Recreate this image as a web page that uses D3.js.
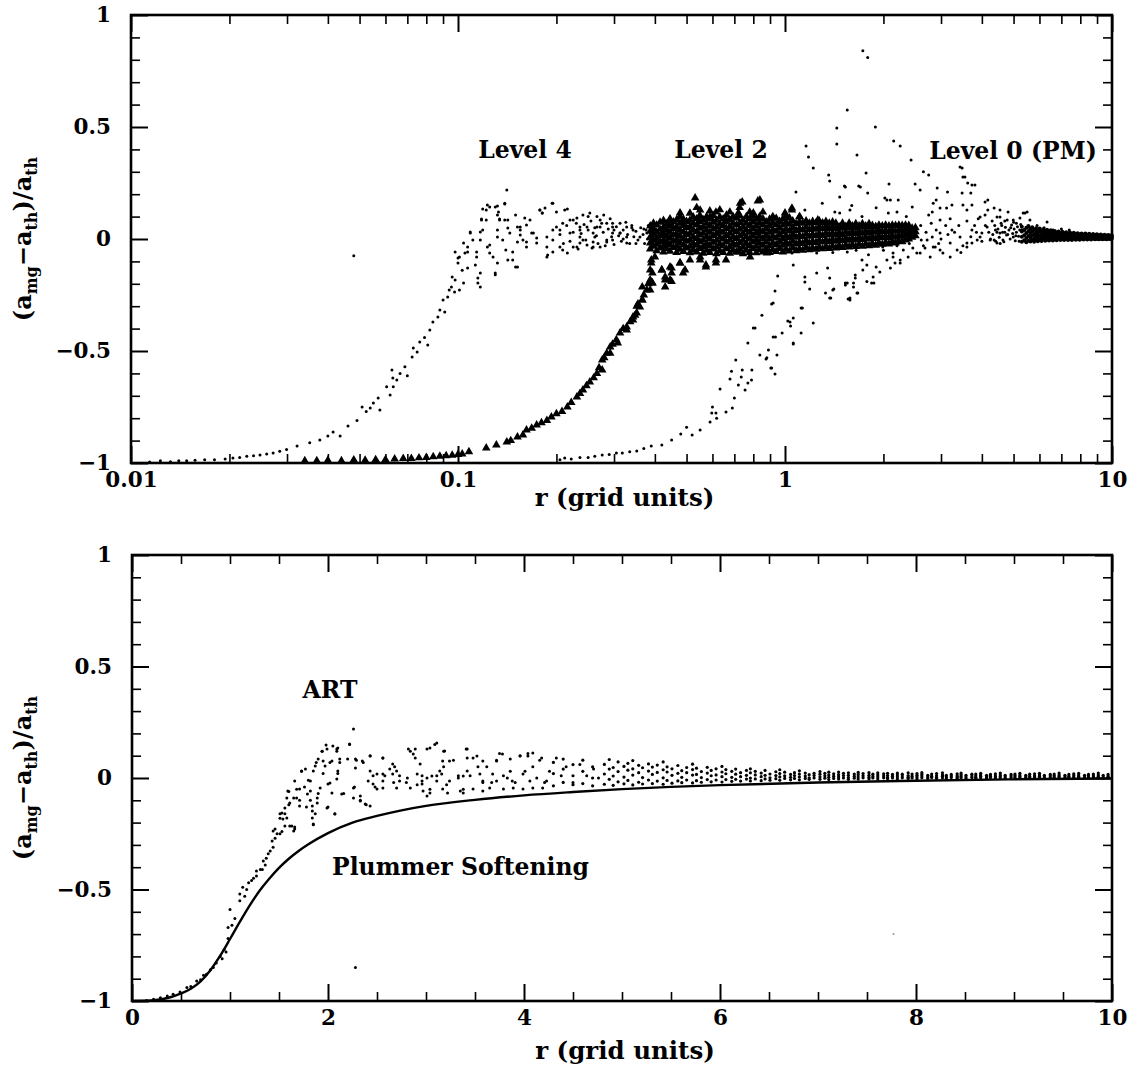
<!DOCTYPE html>
<html>
<head>
<meta charset="utf-8">
<script src="https://cdn.jsdelivr.net/npm/d3@7"></script>
<style>
  body { margin: 0; background: #fff; }
  svg { display: block; }
</style>
</head>
<body>
<svg id="chart" width="1133" height="1072"></svg>
<script>
// ---------------- data: top panel (log r) ----------------
// Level 4 refinement, small dots: [r, (a_mg - a_th)/a_th]
const level4 = [
  [0.0114,-0.995],[0.0123,-0.99],[0.0132,-0.994],[0.0140,-0.99],[0.0148,-0.99],[0.0157,-0.988],[0.0168,-0.986],
  [0.0180,-0.985],[0.0194,-0.982],[0.0205,-0.978],[0.0215,-0.975],[0.0226,-0.97],[0.0237,-0.968],[0.0248,-0.964],
  [0.0260,-0.96],[0.0272,-0.955],[0.0285,-0.948],[0.0299,-0.94],[0.0322,-0.924],[0.0352,-0.91],[0.0378,-0.897],
  [0.0400,-0.88],[0.0415,-0.862],[0.0436,-0.88],[0.0461,-0.835],[0.0491,-0.81],[0.0509,-0.75],[0.0524,-0.77],
  [0.0539,-0.754],[0.0551,-0.732],[0.0570,-0.71],[0.0577,-0.763],[0.0605,-0.66],[0.0620,-0.696],[0.0628,-0.585],
  [0.0632,-0.62],[0.0634,-0.66],[0.0650,-0.63],[0.0665,-0.60],[0.0688,-0.57],[0.0700,-0.61],[0.0724,-0.527],
  [0.0730,-0.487],[0.0750,-0.505],[0.0764,-0.46],[0.0790,-0.44],[0.0808,-0.473],[0.0820,-0.406],[0.0838,-0.37],
  [0.0868,-0.348],[0.0880,-0.317],[0.0900,-0.272],[0.0911,-0.326],[0.0930,-0.259],[0.0955,-0.214],[0.0976,-0.237],
  [0.1010,-0.228],[0.1040,-0.196],[0.1000,-0.107],[0.1010,-0.08],[0.1030,-0.14],[0.1050,-0.063],[0.1070,-0.036],
  [0.1090,0.027],[0.1110,-0.004],[0.1130,-0.116],[0.1140,-0.08],[0.1150,-0.196],[0.1170,-0.152],[0.1180,0.085],
  [0.1190,0.04],[0.1220,0.13],[0.1230,-0.036],[0.1250,0.143],[0.1280,-0.08],[0.1300,0.143],[0.1300,-0.152],
  [0.1320,0.107],[0.1340,0.085],[0.1370,-0.004],[0.1390,0.16],[0.1410,0.219],[0.1420,-0.094],[0.1440,0.027],
  [0.1470,-0.058],[0.1500,-0.125],[0.1520,0.054],[0.1550,0.04],[0.1580,-0.004],[0.1620,-0.036],[0.1660,0.085],
  [0.1680,0.027],[0.1740,-0.018],[0.1780,0.13],[0.1810,0.116],[0.1870,-0.036],[0.1880,-0.071],[0.1940,0.16],
  [0.1950,-0.004],[0.2000,0.054],[0.2050,-0.036],[0.2120,0.13],[0.2160,-0.063],[0.2200,0.027],[0.2250,0.085],
  [0.2310,-0.036],[0.2360,0.054],[0.2410,-0.004],[0.2500,0.10],[0.2590,-0.036],[0.2660,0.054],[0.2720,0.085],
  [0.2850,-0.004],[0.2970,0.054],[0.3130,0.027],[0.3280,-0.018],[0.3430,0.04],[0.3600,0.009],[0.3780,0.027],
  [0.3930,-0.036],
  [0.123,0.152],[0.132,0.147],[0.139,0.156],[0.119,0.134],[0.133,0.12],[0.118,0.089],[0.122,0.085],[0.134,0.089],
  [0.139,0.085],[0.142,0.085],[0.150,0.107],[0.160,0.094],[0.178,0.129],[0.1845,0.138],[0.195,0.16],[0.200,0.12],
  [0.216,0.134],[0.181,0.116],[0.109,0.031],[0.117,0.031],[0.132,0.04],[0.117,-0.004],[0.125,-0.027],[0.132,0.009],
  [0.142,0.049],[0.155,0.054],[0.162,0.063],[0.170,0.027],[0.155,0.018],[0.152,-0.013],[0.162,-0.013],[0.174,0.004],
  [0.187,0.009],[0.195,0.04],[0.205,0.04],[0.209,0.07],[0.220,0.085],[0.231,0.094],[0.241,0.107],[0.253,0.116],
  [0.266,0.10],[0.279,0.107],[0.104,-0.018],[0.107,-0.058],[0.098,-0.058],[0.100,-0.085],[0.114,-0.058],
  [0.125,-0.063],[0.132,-0.107],[0.140,-0.049],[0.147,-0.094],[0.152,-0.125],[0.130,-0.16],[0.115,-0.174],
  [0.117,-0.214],[0.107,-0.13],[0.096,-0.17],[0.098,-0.183],[0.094,-0.228],[0.187,-0.08],[0.195,-0.058],
  [0.209,-0.049],[0.225,-0.036],[0.236,-0.018],[0.248,-0.027],[0.259,-0.013],[0.272,-0.036],[0.285,-0.013],
  [0.297,-0.004],[0.313,0.027],[0.236,0.04],[0.248,0.054],[0.259,0.027],[0.272,0.054],[0.285,0.07],[0.297,0.07],
  [0.313,0.07],[0.328,0.054],[0.236,0.009],[0.262,0.009],[0.297,0.027],[0.328,0.009],
  [0.30,0.04],[0.32,0.0],[0.34,0.05],[0.35,-0.02],[0.37,0.045],[0.38,0.0],[0.40,0.02],[0.42,0.03],[0.44,0.0],[0.46,0.02],
  [0.205,0.02],[0.210,-0.02],[0.215,0.06],[0.220,-0.01],[0.225,0.03],[0.230,0.07],[0.233,-0.045],[0.238,0.025],
  [0.243,0.065],[0.246,-0.005],[0.250,0.04],[0.255,0.08],[0.257,-0.04],[0.262,0.05],[0.265,0.015],[0.268,-0.02],
  [0.275,0.07],[0.278,0.03],[0.282,-0.03],[0.288,0.045],[0.292,0.09],[0.295,0.01],[0.300,-0.025],[0.305,0.055],
  [0.310,0.015],[0.316,-0.01],[0.320,0.04],[0.326,0.075],[0.330,0.02],[0.335,-0.02],[0.340,0.06],[0.345,0.01],
  [0.350,0.035],[0.355,-0.005],[0.362,0.05],[0.368,0.02],[0.372,-0.02],[0.376,0.04],[0.382,0.06],[0.385,0.01],
  [0.048,-0.075]
];

// Level 2 refinement, triangles
const level2 = [
  [0.034,-0.99],[0.037,-0.99],[0.040,-0.988],[0.044,-0.99],[0.048,-0.986],[0.052,-0.988],[0.056,-0.985],
  [0.060,-0.985],[0.064,-0.982],[0.068,-0.98],[0.072,-0.98],[0.076,-0.977],[0.080,-0.975],[0.084,-0.972],
  [0.088,-0.97],[0.092,-0.968],[0.096,-0.965],[0.100,-0.962],[0.103,-0.96],[0.108,-0.95],
  [0.122,-0.933],[0.131,-0.92],[0.141,-0.906],[0.152,-0.884],[0.162,-0.853],[0.174,-0.83],[0.187,-0.81],
  [0.200,-0.78],[0.216,-0.75],[0.231,-0.705],[0.241,-0.674],[0.253,-0.638],[0.266,-0.60],[0.276,-0.54],
  [0.285,-0.51],[0.292,-0.482],[0.313,-0.42],[0.328,-0.393],[0.343,-0.362],[0.352,-0.33],[0.360,-0.304],
  [0.366,-0.272],[0.378,-0.228],[0.387,-0.183],[0.393,-0.152],[0.390,-0.107],[0.400,-0.08],[0.420,-0.138],
  [0.430,-0.183],[0.445,-0.125],[0.450,-0.152],[0.4775,-0.107],[0.488,-0.152],[0.524,-0.049],[0.550,-0.094],
  [0.573,-0.125],[0.615,-0.107],
  [0.145,-0.90],[0.158,-0.875],[0.168,-0.845],[0.180,-0.82],[0.193,-0.795],[0.208,-0.77],[0.222,-0.73],
  [0.236,-0.69],[0.247,-0.655],[0.260,-0.62],[0.270,-0.575],[0.280,-0.53],[0.297,-0.47],[0.305,-0.45],
  [0.320,-0.40],[0.336,-0.37],[0.348,-0.34],[0.355,-0.29],[0.370,-0.25],[0.382,-0.20],
  [0.276,-0.585],[0.292,-0.51],[0.308,-0.464],[0.328,-0.406],[0.343,-0.348],[0.352,-0.30],[0.366,-0.272],
  [0.387,-0.228],[0.393,-0.196],[0.430,-0.214],[0.450,-0.19],
  [0.390,-0.094],[0.387,-0.138],[0.420,-0.138],[0.450,-0.13],[0.4775,-0.107],[0.4945,-0.138],[0.430,-0.17],
  [0.512,-0.094],[0.550,-0.08],[0.573,-0.116],[0.615,-0.094],[0.660,-0.094],[0.720,-0.058],[0.782,-0.08],
  [0.880,-0.063],[0.366,-0.214],[0.393,-0.196],[0.445,-0.183],
  [0.531,0.183],[0.826,0.17],[0.4775,0.116],[0.550,0.129],[0.615,0.12],[0.729,0.16],[0.720,0.116],
  [0.856,0.12],[1.000,0.116],[1.050,0.129],[0.445,0.071],[0.488,0.076],[0.590,0.098],[0.660,0.085],
  [0.800,0.116],[0.915,0.094],[1.110,0.098],[1.260,0.085],[0.838,0.174],[1.050,0.138],[0.740,0.165]
];

// Level 2: the dense band near zero, one column per radius
const level2Band = [
  [0.387,[-0.045,-0.018,0.008,0.034,0.058]],[0.396,[-0.032,-0.006,0.02,0.046,0.07]],
  [0.405,[-0.052,-0.024,0.002,0.03,0.062]],[0.415,[-0.04,-0.012,0.016,0.043,0.075]],
  [0.425,[-0.058,-0.03,-0.004,0.025,0.052,0.083]],[0.435,[-0.044,-0.016,0.012,0.04,0.068]],
  [0.445,[-0.055,-0.026,0.003,0.03,0.058,0.09]],[0.456,[-0.038,-0.01,0.018,0.047,0.076]],
  [0.466,[-0.06,-0.032,-0.004,0.024,0.053,0.085]],[0.477,[-0.046,-0.017,0.012,0.04,0.07,0.1]],
  [0.489,[-0.056,-0.027,0.002,0.031,0.06,0.088]],[0.500,[-0.04,-0.01,0.02,0.05,0.078]],
  [0.512,[-0.062,-0.033,-0.004,0.026,0.055,0.084,0.115]],[0.524,[-0.048,-0.019,0.01,0.04,0.07,0.098]],
  [0.537,[-0.058,-0.028,0.002,0.032,0.062,0.09,0.14]],[0.549,[-0.042,-0.012,0.018,0.048,0.078,0.105]],
  [0.562,[-0.064,-0.034,-0.004,0.026,0.056,0.086]],[0.576,[-0.05,-0.02,0.01,0.04,0.07,0.1]],
  [0.589,[-0.06,-0.03,0.0,0.03,0.06,0.09,0.125]],[0.603,[-0.045,-0.015,0.015,0.045,0.075,0.105]],
  [0.617,[-0.066,-0.036,-0.006,0.024,0.054,0.084]],[0.632,[-0.052,-0.022,0.008,0.038,0.068,0.098,0.13]],
  [0.647,[-0.06,-0.03,0.0,0.03,0.06,0.09]],[0.662,[-0.044,-0.014,0.016,0.046,0.076,0.106]],
  [0.678,[-0.064,-0.034,-0.004,0.026,0.056,0.086,0.12]],[0.694,[-0.05,-0.02,0.01,0.04,0.07,0.1]],
  [0.710,[-0.058,-0.028,0.002,0.032,0.062,0.092]],[0.727,[-0.046,-0.016,0.014,0.044,0.074,0.104,0.14]],
  [0.744,[-0.066,-0.036,-0.006,0.024,0.054,0.084]],[0.762,[-0.05,-0.02,0.01,0.04,0.07,0.1]],
  [0.780,[-0.06,-0.03,0.0,0.03,0.06,0.09,0.12]],[0.798,[-0.044,-0.014,0.016,0.046,0.076,0.104]],
  [0.817,[-0.062,-0.032,-0.002,0.028,0.058,0.088]],[0.836,[-0.048,-0.018,0.012,0.042,0.072,0.1]],
  [0.856,[-0.058,-0.028,0.002,0.032,0.062,0.09]],[0.876,[-0.044,-0.014,0.016,0.046,0.076]],
  [0.897,[-0.06,-0.03,0.0,0.03,0.06,0.088]],[0.918,[-0.048,-0.018,0.012,0.042,0.072,0.1]],
  [0.940,[-0.056,-0.026,0.004,0.034,0.064,0.092]],[0.962,[-0.042,-0.012,0.018,0.048,0.078]],
  [0.985,[-0.058,-0.028,0.002,0.032,0.062,0.09]],[1.008,[-0.046,-0.016,0.014,0.044,0.074,0.102]],
  [1.032,[-0.054,-0.024,0.006,0.036,0.066,0.094]],[1.056,[-0.04,-0.01,0.02,0.05,0.08]],
  [1.081,[-0.052,-0.022,0.008,0.038,0.068]],[1.107,[-0.044,-0.014,0.016,0.046,0.076,0.1]],
  [1.133,[-0.05,-0.02,0.01,0.04,0.07]],[1.160,[-0.038,-0.008,0.022,0.052,0.08]],
  [1.187,[-0.048,-0.018,0.012,0.042,0.07]],[1.215,[-0.04,-0.01,0.02,0.05,0.078]],
  [1.244,[-0.046,-0.016,0.014,0.044,0.072]],[1.273,[-0.036,-0.006,0.024,0.054,0.08]],
  [1.303,[-0.044,-0.014,0.016,0.046,0.072]],[1.334,[-0.034,-0.004,0.026,0.054,0.078]],
  [1.366,[-0.042,-0.012,0.018,0.046,0.07]],[1.398,[-0.032,-0.002,0.026,0.054,0.076]],
  [1.431,[-0.04,-0.01,0.018,0.046,0.07]],[1.465,[-0.03,0.0,0.028,0.054]],
  [1.499,[-0.038,-0.008,0.02,0.048,0.07]],[1.535,[-0.028,0.002,0.03,0.056]],
  [1.571,[-0.036,-0.006,0.022,0.05,0.07]],[1.608,[-0.026,0.004,0.032,0.058]],
  [1.646,[-0.034,-0.004,0.024,0.05,0.068]],[1.685,[-0.024,0.006,0.032,0.058]],
  [1.725,[-0.032,-0.002,0.026,0.052,0.068]],[1.766,[-0.022,0.008,0.034,0.058]],
  [1.807,[-0.03,0.0,0.028,0.054,0.068]],[1.850,[-0.02,0.01,0.036,0.06]],
  [1.894,[-0.028,0.002,0.03,0.056]],[1.938,[-0.018,0.012,0.038,0.062]],
  [1.984,[-0.024,0.006,0.032,0.058]],[2.031,[-0.016,0.012,0.038,0.062]],
  [2.079,[-0.022,0.006,0.032,0.058]],[2.128,[-0.014,0.014,0.04,0.062]],
  [2.178,[-0.018,0.008,0.034,0.06]],[2.230,[-0.01,0.016,0.04,0.062]],
  [2.282,[-0.012,0.012,0.036,0.06]],[2.336,[-0.004,0.02,0.044,0.062]],
  [2.391,[0.0,0.022,0.044,0.06]],[2.448,[0.008,0.028,0.048]],[2.505,[0.014,0.032,0.05]]
];

// Level 0 (PM), small dots
const level0 = [
  [0.205,-0.985],[0.212,-0.978],[0.222,-0.982],[0.236,-0.975],[0.250,-0.975],[0.262,-0.97],[0.276,-0.964],
  [0.290,-0.962],[0.305,-0.955],[0.318,-0.955],[0.335,-0.95],[0.352,-0.946],[0.370,-0.935],[0.390,-0.924],
  [0.420,-0.92],[0.450,-0.897],[0.480,-0.87],[0.500,-0.84],[0.520,-0.875],[0.550,-0.853],[0.590,-0.817],
  [0.597,-0.777],[0.615,-0.777],[0.600,-0.75],[0.618,-0.80],[0.633,-0.67],[0.660,-0.772],[0.679,-0.625],
  [0.686,-0.59],[0.690,-0.754],[0.707,-0.54],[0.720,-0.652],[0.700,-0.71],[0.740,-0.585],[0.735,-0.616],
  [0.755,-0.674],[0.770,-0.643],[0.790,-0.63],[0.792,-0.585],[0.770,-0.464],[0.800,-0.397],[0.838,-0.518],
  [0.850,-0.34],[0.875,-0.536],[0.890,-0.496],[0.905,-0.576],[0.932,-0.603],[0.910,-0.29],[0.932,-0.232],
  [0.935,-0.4375],[0.945,-0.518],[0.980,-0.42],[1.020,-0.366],[1.040,-0.388],[1.060,-0.353],[1.060,-0.469],
  [1.120,-0.42],[1.130,-0.308],[1.220,-0.375],[1.150,-0.192],[1.190,-0.223],[1.330,-0.241],[1.380,-0.263],
  [1.410,-0.223],[1.530,-0.196],[1.560,-0.268],[1.620,-0.214],[1.670,-0.241],[1.780,-0.19],[1.870,-0.196],
  [0.950,-0.165],[0.920,-0.286],[0.810,-0.397],[1.050,-0.0625],[1.060,-0.116],[1.250,-0.0625],[1.150,-0.17],
  [1.250,-0.152],[1.350,-0.13],[1.370,-0.174],[1.400,-0.228],[1.370,-0.263],[1.120,-0.308],[1.036,-0.37],
  [1.060,-0.464],[0.920,-0.4375],[0.880,-0.53],[0.910,-0.576],
  [1.530,-0.205],[1.580,-0.272],[1.640,-0.174],[1.550,-0.058],[1.470,-0.04],[1.660,-0.241],[1.720,-0.094],
  [1.780,-0.116],[1.840,-0.196],[1.860,-0.17],[1.950,-0.147],[1.990,-0.036],[2.050,-0.094],[2.100,-0.13],
  [2.140,-0.0625],[2.170,-0.107],[2.250,-0.094],[2.300,-0.049],[2.380,-0.08],[2.460,-0.04],[2.530,-0.0625],
  [2.610,-0.004],[2.680,-0.04],[2.820,0.009],[2.880,-0.036],[2.980,0.027],[3.040,-0.0625],[3.200,-0.08],
  [3.240,0.04],[3.430,0.009],[3.600,-0.018],[3.730,0.04],[3.870,-0.004],[4.000,0.027],[4.150,0.054],
  [4.360,-0.004],[4.545,0.027],
  [2.720,-0.004],[2.840,-0.036],[2.590,-0.0625],[2.780,-0.08],[2.980,-0.049],[3.200,-0.018],[3.360,-0.049],
  [3.600,-0.036],[3.730,-0.018],[3.950,0.009],[4.240,-0.004],[4.450,-0.018],[4.640,-0.004],[4.990,0.009],
  [2.140,-0.08],[2.250,-0.107],[1.900,-0.125],[1.730,-0.138],[1.620,-0.196],[1.640,-0.161],[1.550,-0.196],
  [1.580,-0.263],
  [1.730,0.84],[1.790,0.81],[1.550,0.576],[1.440,0.496],[1.890,0.50],[1.440,0.424],[1.160,0.415],[2.150,0.4375],
  [2.250,0.415],[1.180,0.366],[1.660,0.375],[2.430,0.353],[1.220,0.317],[1.770,0.295],[2.650,0.30],[2.750,0.286],
  [3.430,0.321],[1.360,0.286],[1.370,0.259],[1.080,0.21],[1.520,0.237],[1.470,0.1875],[1.680,0.237],[1.790,0.205],
  [2.080,0.246],[2.050,0.174],[2.500,0.246],[2.590,0.219],[2.920,0.228],[3.140,0.21],[3.500,0.277],[3.620,0.25],
  [3.730,0.241],[3.700,0.205],[2.900,0.174],[2.450,0.143],[2.820,0.12],[2.980,0.138],[4.170,0.174],[3.240,0.152],
  [1.580,0.129],[2.070,0.116],[1.470,0.116],[4.360,0.138],[5.420,0.116],[4.545,0.098],
  [1.530,0.232],[1.700,0.232],[2.020,0.183],[2.100,0.174],[2.220,0.174],[2.750,0.107],[2.980,0.085],[3.480,0.317],
  [3.550,0.277],[3.810,0.241],[3.480,0.205],[3.500,0.152],[3.600,0.129],[3.730,0.152],[4.090,0.165],[4.170,0.129],
  [4.545,0.129],[4.810,0.12],[5.350,0.116],[5.500,0.12],[6.330,0.076],[4.090,0.107],[3.950,0.098],[4.450,0.098],
  [4.780,0.085],[4.990,0.085],[5.230,0.094],[5.610,0.085],[2.840,0.16],[3.120,0.138],
  [2.60,0.06],[2.70,0.03],[2.80,0.07],[2.90,0.04],[3.00,0.0],[3.10,0.06],[3.20,0.09],[3.30,0.03],[3.40,0.06],
  [3.50,-0.03],[3.60,0.08],[3.70,0.01],[3.80,0.06],[3.90,0.09],[4.00,-0.01],[4.10,0.06],[4.20,0.03],[4.30,0.08],
  [4.40,0.04],[2.65,-0.03],[2.95,-0.02],[3.15,0.02],[3.45,-0.06],[3.85,0.03],[4.25,0.0],[4.60,0.06],[4.70,0.03],
  [4.90,0.05],[5.10,0.07],[5.30,0.04],[5.60,0.05],[5.90,0.06],[6.20,0.05],[6.60,0.04],[7.00,0.045],[7.40,0.04],
  [1.20,-0.04],[1.40,-0.06],[1.65,-0.05],[1.80,-0.07],[2.00,-0.05],[2.20,-0.03],[2.40,-0.02],
  [1.15,0.13],[1.30,0.16],[1.42,0.12],[1.60,0.15],[1.72,0.10],[1.90,0.14],[2.20,0.12],[2.35,0.10],
  [4.32,0.02],[4.38,0.06],[4.41,-0.01],[4.48,0.045],[4.52,0.008],[4.58,0.07],[4.63,0.03],[4.67,-0.012],
  [4.72,0.052],[4.76,0.018],[4.84,0.04],[4.88,0.0],[4.93,0.062],[4.97,0.025],[5.02,0.045],[5.06,-0.008],
  [5.10,0.03],[5.14,0.055],[5.18,0.012],[5.22,0.04],[5.26,0.065],[4.45,0.03],[4.70,0.08],[5.00,0.075],
  [5.20,-0.01],[4.80,0.02],[4.55,-0.02],[5.08,0.015]
];

// Level 0: converged band at large radius
const level0Band = [
  [5.30,[-0.012,0.01,0.034,0.055]],[5.39,[-0.006,0.017,0.04]],[5.47,[-0.014,0.004,0.027,0.05]],
  [5.55,[-0.008,0.013,0.036,0.058]],[5.63,[-0.011,0.006,0.024,0.045]],[5.70,[-0.005,0.016,0.033,0.052]],
  [5.78,[-0.012,0.002,0.021,0.041]],[5.86,[-0.004,0.012,0.03,0.048]],[5.93,[-0.01,0.006,0.022,0.04]],
  [6.01,[-0.003,0.015,0.032,0.047]],[6.09,[-0.009,0.004,0.02,0.037]],[6.17,[-0.002,0.011,0.027,0.044]],
  [6.25,[-0.008,0.006,0.019,0.035]],[6.33,[-0.003,0.012,0.026,0.041]],[6.42,[-0.007,0.003,0.017,0.033]],
  [6.50,[-0.001,0.011,0.024,0.039]],[6.59,[-0.007,0.005,0.016,0.03]],[6.68,[-0.002,0.01,0.022,0.036]],
  [6.77,[-0.006,0.003,0.015,0.029]],[6.86,[0.0,0.009,0.021,0.034]],[6.95,[-0.005,0.004,0.014,0.027]],
  [7.05,[-0.001,0.009,0.02,0.032]],[7.14,[-0.005,0.003,0.013,0.026]],[7.24,[0.0,0.008,0.019,0.03]],
  [7.34,[-0.004,0.004,0.013,0.025]],[7.44,[0.0,0.008,0.018,0.029]],[7.54,[-0.004,0.003,0.012,0.023]],
  [7.64,[0.001,0.008,0.017,0.028]],[7.75,[-0.003,0.004,0.012,0.022]],[7.85,[0.0,0.007,0.016,0.026]],
  [7.96,[-0.003,0.003,0.011,0.021]],[8.07,[0.001,0.007,0.015,0.025]],[8.18,[-0.002,0.004,0.011,0.02]],
  [8.29,[0.001,0.007,0.014,0.024]],[8.40,[-0.002,0.003,0.01,0.019]],[8.52,[0.001,0.007,0.014,0.023]],
  [8.63,[-0.002,0.004,0.01,0.018]],[8.75,[0.001,0.006,0.013,0.022]],[8.87,[-0.001,0.004,0.01,0.018]],
  [8.99,[0.001,0.006,0.013,0.021]],[9.11,[-0.001,0.003,0.009,0.017]],[9.24,[0.001,0.006,0.012,0.02]],
  [9.36,[-0.001,0.004,0.009,0.016]],[9.49,[0.001,0.006,0.012,0.019]],[9.62,[-0.001,0.003,0.009,0.016]],
  [9.75,[0.001,0.006,0.011,0.018]],[9.88,[0.0,0.004,0.009,0.015]],[9.98,[0.001,0.006,0.011,0.017]]
];

// ---------------- data: bottom panel (linear r) ----------------
const art = [
  [0.15,-0.998],[0.22,-0.992],[0.29,-0.985],[0.36,-0.978],[0.42,-0.97],[0.49,-0.96],[0.56,-0.94],[0.60,-0.935],
  [0.66,-0.91],[0.70,-0.905],[0.73,-0.885],[0.76,-0.88],[0.80,-0.86],[0.83,-0.85],[0.86,-0.83],[0.90,-0.80],
  [0.92,-0.81],[0.94,-0.77],[0.96,-0.78],[0.98,-0.72],[0.98,-0.67],[1.00,-0.59],[1.02,-0.66],[1.05,-0.63],
  [1.10,-0.55],[1.10,-0.52],
  [1.13,-0.49],[1.15,-0.53],[1.17,-0.50],[1.19,-0.47],[1.22,-0.46],[1.24,-0.45],[1.27,-0.44],[1.27,-0.417],
  [1.31,-0.41],[1.33,-0.41],[1.34,-0.372],[1.36,-0.39],[1.37,-0.36],[1.39,-0.34],[1.41,-0.327],[1.43,-0.283],
  [1.44,-0.31],[1.44,-0.238],[1.46,-0.27],[1.48,-0.25],[1.51,-0.25],[1.51,-0.16],[1.51,-0.18],[1.53,-0.24],
  [1.54,-0.184],[1.56,-0.134],[1.56,-0.16],[1.60,-0.12],[1.60,-0.06],[1.63,-0.215],[1.65,-0.09],[1.65,-0.238],
  [1.66,-0.22],[1.68,-0.05],[1.71,-0.10],[1.73,0.03],[1.76,-0.04],[1.78,-0.13],[1.80,-0.01],[1.82,-0.10],
  [1.85,-0.21],[1.87,-0.16],[1.88,0.07],[1.90,-0.07],[1.94,0.12],[1.95,0.02],[1.99,0.13],[2.00,-0.13],
  [2.02,0.07],[2.07,-0.16],[2.09,0.13],[2.10,0.02],[2.12,0.07],[2.16,-0.07],[2.22,0.15],[2.26,0.22],
  [2.27,-0.04],[2.29,0.08],[2.33,-0.10],[2.36,0.07],[2.39,-0.12],[2.43,0.10],[2.46,0.01],[2.48,-0.04],
  [2.56,0.09],[2.58,0.01],[2.63,0.04],[2.67,-0.02],[2.68,0.05],[2.73,0.01],[2.80,-0.02],[2.84,0.12],
  [2.89,0.09],[2.91,-0.03],[2.96,0.01],[3.01,0.13],[3.04,-0.05],[3.09,0.15],[3.11,0.01],[3.18,0.12],
  [3.18,0.05],[3.21,-0.03],[3.28,0.08],[3.33,0.01],[3.38,-0.05],[3.41,0.13],[3.45,0.01],[3.48,0.09],
  [3.53,0.05],[3.58,-0.02],[3.62,0.05],[3.67,-0.02],[3.72,0.08],[3.75,0.11],[3.79,0.01],[3.86,0.03],
  [3.91,-0.02],[3.96,0.10],[4.01,0.03],[4.04,0.11],[4.09,0.05],[4.16,0.08],[4.21,-0.02],[4.26,0.03],
  [4.33,0.09],[4.38,0.01],[4.43,0.05],[4.50,-0.02],[4.57,0.06],[4.64,0.01],[4.71,0.04],[4.76,0.0],
  [1.98,0.148],[2.05,0.143],[2.10,0.135],[2.22,0.152],[1.94,0.12],[2.09,0.12],[1.90,0.085],[1.95,0.076],
  [2.04,0.076],[2.12,0.085],[2.20,0.085],[2.28,0.085],[2.35,0.076],[2.43,0.099],[2.56,0.09],[2.66,0.063],
  [1.87,0.054],[1.97,0.054],[2.28,0.045],[1.73,0.031],[1.77,0.04],[1.85,0.031],[2.10,0.031],[2.43,0.031],
  [2.50,0.018],[2.56,0.018],[2.66,0.018],[2.09,-0.004],[1.66,-0.013],[1.82,-0.013],[2.02,-0.022],[2.41,-0.013],
  [2.46,-0.027],[2.56,-0.013],[1.59,-0.058],[1.71,-0.049],[1.82,-0.058],[1.92,-0.045],[2.00,-0.027],[2.26,-0.045],
  [2.50,-0.049],[2.56,-0.045],[1.58,-0.09],[1.68,-0.09],[1.79,-0.072],[1.89,-0.09],[2.04,-0.067],[2.14,-0.072],
  [2.26,-0.09],[2.33,-0.081],[1.61,-0.112],[1.71,-0.126],[1.84,-0.126],[1.89,-0.112],[1.99,-0.135],[2.38,-0.117],
  [2.43,-0.126],[2.33,-0.103],[1.53,-0.157],[1.58,-0.179],[1.84,-0.148],[2.07,-0.161],[1.61,-0.215],[1.56,-0.215],
  [1.84,-0.179],[1.85,-0.206],[1.46,-0.229],[1.66,-0.229],
  [2.82,0.13],[2.89,0.13],[3.04,0.135],[3.11,0.157],[3.19,0.121],[3.17,0.076],[3.24,0.076],[2.94,0.063],
  [2.87,0.108],[3.42,0.13],[3.42,0.09],[3.52,0.099],[3.58,0.076],[3.72,0.076],[3.78,0.108],[3.86,0.085],
  [3.96,0.099],[4.04,0.099],[4.09,0.112],[4.18,0.09],[2.70,0.031],[2.73,-0.013],[2.81,0.0],[2.91,0.018],
  [2.96,-0.013],[3.01,0.0],[3.06,0.009],[3.11,-0.013],[3.16,0.018],[3.14,0.031],[3.24,-0.013],[3.33,0.0],
  [3.38,0.009],[3.42,0.031],[3.55,0.018],[3.58,-0.013],[3.68,0.018],[3.72,-0.013],[3.83,0.0],[3.88,-0.013],
  [3.99,0.018],[4.06,-0.013],[4.13,0.0],[4.23,-0.013],[2.70,-0.045],[2.84,-0.045],[2.97,-0.058],[3.04,-0.067],
  [3.17,-0.049],[3.35,-0.058],[3.48,-0.049],[3.58,-0.058],[3.65,-0.045],[3.79,-0.049],[3.89,-0.045],[3.99,-0.049],
  [4.09,-0.045],[4.19,-0.045],[3.01,-0.081],[3.22,-0.067],[3.38,-0.067],[2.96,-0.027],
  [2.28,-0.85]
];

// ART: converged band at large radius, one column per radius
const artBand = [
  [4.30,[-0.035,0.02,0.07]],[4.40,[-0.02,0.04,0.085]],[4.50,[-0.03,0.01,0.06]],[4.60,[-0.025,0.03,0.08]],
  [4.70,[-0.035,0.0,0.05]],
  [4.82,[-0.028,0.018,0.061]],[4.87,[-0.006,0.04,0.083]],[4.91,[-0.033,0.009,0.047]],[4.96,[-0.017,0.029,0.072]],
  [5.02,[-0.026,0.004,0.052]],[5.06,[-0.011,0.035,0.066]],[5.11,[-0.031,0.013,0.041,0.078]],[5.17,[-0.019,0.024,0.057]],
  [5.21,[-0.027,0.002,0.046]],[5.27,[-0.009,0.031,0.063]],[5.31,[-0.025,0.016,0.049]],[5.36,[-0.014,0.025,0.058]],
  [5.42,[-0.028,0.001,0.037,0.072]],[5.46,[-0.011,0.027,0.05]],[5.51,[-0.023,0.012,0.041]],[5.57,[-0.013,0.021,0.056]],
  [5.61,[-0.021,0.003,0.033]],[5.66,[-0.009,0.024,0.047]],[5.72,[-0.022,0.013,0.038,0.062]],[5.76,[-0.012,0.016,0.044]],
  [5.81,[-0.019,0.002,0.029]],[5.87,[-0.007,0.022,0.048]],[5.91,[-0.017,0.01,0.034]],[5.96,[-0.009,0.014,0.041]],
  [6.02,[-0.018,0.006,0.027,0.052]],[6.06,[-0.007,0.019,0.038]],[6.12,[-0.015,0.003,0.03]],[6.16,[-0.006,0.017,0.04]],
  [6.21,[-0.014,0.006,0.024]],[6.27,[-0.005,0.012,0.034]],[6.31,[-0.013,0.0,0.023,0.041]],[6.36,[-0.004,0.014,0.03]],
  [6.42,[-0.012,0.006,0.022]],[6.46,[-0.004,0.012,0.034]],[6.51,[-0.01,0.001,0.018]],[6.57,[-0.003,0.011,0.028]],
  [6.61,[-0.01,0.005,0.02,0.037]],[6.66,[-0.002,0.01,0.026]],[6.72,[-0.008,0.003,0.016]],[6.76,[-0.002,0.011,0.024]],
  [6.81,[-0.008,0.005,0.018,0.032]],[6.87,[-0.002,0.009,0.022]],[6.91,[-0.006,0.001,0.015]],[6.96,[0.0,0.011,0.021]],
  [7.02,[-0.006,0.005,0.017,0.029]],[7.07,[-0.001,0.01,0.021]],[7.11,[-0.007,0.003,0.013,0.026]],[7.16,[-0.002,0.008,0.019]],
  [7.21,[-0.005,0.005,0.015,0.027]],[7.26,[0.0,0.011,0.021]],[7.31,[-0.006,0.002,0.012,0.023]],[7.37,[-0.001,0.008,0.018]],
  [7.41,[-0.005,0.004,0.015,0.025]],[7.46,[0.001,0.01,0.02]],[7.52,[-0.004,0.003,0.012,0.024]],[7.56,[0.0,0.007,0.017]],
  [7.61,[-0.004,0.005,0.014,0.023]],[7.67,[0.001,0.009,0.019]],[7.71,[-0.003,0.002,0.011,0.021]],[7.76,[0.0,0.008,0.016]],
  [7.81,[-0.004,0.004,0.013,0.022]],[7.86,[0.001,0.009,0.017]],[7.92,[-0.002,0.003,0.011,0.023]],[7.96,[0.0,0.008,0.018]],
  [8.01,[-0.003,0.004,0.012,0.02]],[8.06,[0.001,0.009,0.016,0.024]],[8.12,[-0.002,0.005,0.012]],[8.16,[0.002,0.008,0.018]],
  [8.21,[-0.002,0.003,0.01,0.02]],[8.27,[0.001,0.008,0.014,0.023]],[8.31,[-0.002,0.005,0.012]],[8.36,[0.002,0.009,0.016]],
  [8.42,[-0.001,0.004,0.01,0.019]],[8.46,[0.001,0.007,0.015,0.022]],[8.51,[-0.002,0.004,0.012]],[8.57,[0.002,0.009,0.017]],
  [8.61,[-0.001,0.003,0.01,0.018]],[8.66,[0.001,0.008,0.014,0.021]],[8.72,[-0.002,0.005,0.012]],[8.76,[0.002,0.008,0.016]],
  [8.81,[0.0,0.004,0.01,0.019]],[8.86,[0.001,0.007,0.014,0.022]],[8.91,[-0.001,0.005,0.012]],[8.97,[0.002,0.009,0.016]],
  [9.01,[0.0,0.004,0.011,0.018]],[9.06,[0.002,0.007,0.013,0.021]],[9.12,[0.0,0.005,0.012]],[9.16,[0.002,0.008,0.017]],
  [9.21,[0.0,0.005,0.01,0.019]],[9.26,[0.002,0.008,0.014,0.021]],[9.31,[0.0,0.004,0.012]],[9.37,[0.002,0.009,0.016]],
  [9.41,[0.0,0.005,0.011,0.018]],[9.46,[0.002,0.007,0.014,0.022]],[9.52,[0.0,0.005,0.012]],[9.56,[0.002,0.008,0.016]],
  [9.61,[0.0,0.004,0.011,0.019]],[9.66,[0.002,0.008,0.013,0.021]],[9.72,[0.0,0.005,0.012]],[9.76,[0.002,0.009,0.016]],
  [9.81,[0.0,0.005,0.01,0.018]],[9.86,[0.002,0.007,0.014,0.022]],[9.91,[0.0,0.004,0.012]],[9.96,[0.002,0.008,0.016]]
];

// a faint isolated speck
const artFaint = [[7.77,-0.70]];

// Plummer-softened force error, sampled along the curve
const plummer = [
  [0,-1.0],[0.2,-0.998],[0.4,-0.982],[0.5,-0.966],[0.6,-0.945],[0.7,-0.912],[0.8,-0.862],[0.9,-0.797],
  [1.0,-0.722],[1.1,-0.645],[1.2,-0.572],[1.3,-0.507],[1.4,-0.452],[1.5,-0.403],[1.6,-0.362],[1.7,-0.327],
  [1.8,-0.297],[2.0,-0.247],[2.25,-0.2],[2.5,-0.17],[2.75,-0.145],[3.0,-0.125],[3.5,-0.098],
  [4.0,-0.078],[4.5,-0.063],[5.0,-0.05],[5.5,-0.04],[6.0,-0.032],[7.0,-0.02],[8.0,-0.012],[9.0,-0.006],[10.0,-0.002]
];

// ---------------- ticks ----------------
const yMajor = [-1, -0.5, 0, 0.5, 1];
const yMajorLabels = ["\u22121", "\u22120.5", "0", "0.5", "1"];
const yMinor = [-0.9,-0.8,-0.7,-0.6,-0.4,-0.3,-0.2,-0.1,0.1,0.2,0.3,0.4,0.6,0.7,0.8,0.9];

const topXMajor = [0.01, 0.1, 1, 10];
const topXMajorLabels = ["0.01", "0.1", "1", "10"];
const topXMinor = [0.02,0.03,0.04,0.05,0.06,0.07,0.08,0.09,
                   0.2,0.3,0.4,0.5,0.6,0.7,0.8,0.9,
                   2,3,4,5,6,7,8,9];

const botXMajor = [0, 2, 4, 6, 8, 10];
const botXMajorLabels = ["0", "2", "4", "6", "8", "10"];
const botXMinor = [0.5,1,1.5,2.5,3,3.5,4.5,5,5.5,6.5,7,7.5,8.5,9,9.5];

// ---------------- drawing ----------------
const svg = d3.select("#chart");
const FONT = "'DejaVu Serif', 'Liberation Serif', serif";
const LABEL_SIZE = 23.5;

const band = cols => cols.flatMap(([r, ys]) => ys.map(v => [r, v]));

function panel(x, y, xMajor, xLabels, xMinor, titleGap) {
  const [x0, x1] = x.range();
  const [yb, yt] = y.range();
  const g = svg.append("g");

  const styleAxis = (sel, w) => {
    sel.select(".domain").remove();
    sel.selectAll(".tick line").attr("stroke", "#000").attr("stroke-width", w);
    sel.selectAll("text").attr("font-family", FONT).attr("font-weight", "bold")
      .attr("font-size", 21.5).attr("fill", "#000");
  };

  // minor ticks on all four sides, pointing inward
  g.append("g").attr("transform", `translate(0,${yb})`)
    .call(d3.axisBottom(x).tickValues(xMinor).tickSize(-9).tickFormat(""))
    .call(s => styleAxis(s, 1.6));
  g.append("g").attr("transform", `translate(0,${yt})`)
    .call(d3.axisTop(x).tickValues(xMinor).tickSize(-9).tickFormat(""))
    .call(s => styleAxis(s, 1.6));
  g.append("g").attr("transform", `translate(${x0},0)`)
    .call(d3.axisLeft(y).tickValues(yMinor).tickSize(-9).tickFormat(""))
    .call(s => styleAxis(s, 1.6));
  g.append("g").attr("transform", `translate(${x1},0)`)
    .call(d3.axisRight(y).tickValues(yMinor).tickSize(-9).tickFormat(""))
    .call(s => styleAxis(s, 1.6));

  // major ticks, labelled on bottom and left
  g.append("g").attr("transform", `translate(0,${yb})`)
    .call(d3.axisBottom(x).tickValues(xMajor).tickSize(-17).tickPadding(9)
      .tickFormat((d, i) => xLabels[i]))
    .call(s => styleAxis(s, 2));
  g.append("g").attr("transform", `translate(0,${yt})`)
    .call(d3.axisTop(x).tickValues(xMajor).tickSize(-17).tickFormat(""))
    .call(s => styleAxis(s, 2));
  g.append("g").attr("transform", `translate(${x0},0)`)
    .call(d3.axisLeft(y).tickValues(yMajor).tickSize(-17).tickPadding(20)
      .tickFormat((d, i) => yMajorLabels[i]))
    .call(s => styleAxis(s, 2));
  g.append("g").attr("transform", `translate(${x1},0)`)
    .call(d3.axisRight(y).tickValues(yMajor).tickSize(-17).tickFormat(""))
    .call(s => styleAxis(s, 2));

  // frame
  g.append("rect")
    .attr("x", x0).attr("y", yt).attr("width", x1 - x0).attr("height", yb - yt)
    .attr("fill", "none").attr("stroke", "#000").attr("stroke-width", 2.6);

  // x title
  g.append("text")
    .attr("x", (x0 + x1) / 2 + 3).attr("y", yb + titleGap)
    .attr("text-anchor", "middle")
    .attr("font-family", FONT).attr("font-weight", "bold").attr("font-size", 24.5)
    .text("r (grid units)");

  // y title: (a_mg - a_th)/a_th
  const yt2 = g.append("text")
    .attr("transform", `translate(31,${(yb + yt) / 2}) rotate(-90)`)
    .attr("text-anchor", "middle")
    .attr("font-family", FONT).attr("font-weight", "bold").attr("font-size", 24);
  yt2.append("tspan").text("(a");
  yt2.append("tspan").attr("font-size", 16).attr("dy", 6).text("mg");
  yt2.append("tspan").attr("dy", -6).text("\u2212a");
  yt2.append("tspan").attr("font-size", 16).attr("dy", 6).text("th");
  yt2.append("tspan").attr("dy", -6).text(")/a");
  yt2.append("tspan").attr("font-size", 16).attr("dy", 6).text("th");

  return g;
}

function label(txt, x, y, anchor) {
  svg.append("text")
    .attr("x", x).attr("y", y).attr("text-anchor", anchor || "middle")
    .attr("font-family", FONT).attr("font-weight", "bold").attr("font-size", LABEL_SIZE)
    .text(txt);
}

const dots = (g, data, x, y, r, fill) =>
  g.append("g").selectAll("circle").data(data).join("circle")
    .attr("cx", d => x(d[0])).attr("cy", d => y(d[1])).attr("r", r).attr("fill", fill || "#000");

// ----- top panel -----
const xTop = d3.scaleLog().domain([0.01, 10]).range([131, 1112]);
const yTop = d3.scaleLinear().domain([-1, 1]).range([463, 15]);

const topPlot = svg.append("g");
dots(topPlot, level4, xTop, yTop, 1.5);
dots(topPlot, level0, xTop, yTop, 1.5);
dots(topPlot, band(level0Band), xTop, yTop, 2.0);

const tri = d3.symbol().type(d3.symbolTriangle).size(32);
topPlot.append("g").selectAll("path").data(level2.concat(band(level2Band))).join("path")
  .attr("d", tri)
  .attr("transform", d => `translate(${xTop(d[0])},${yTop(d[1])})`)
  .attr("fill", "#000");

panel(xTop, yTop, topXMajor, topXMajorLabels, topXMinor, 43);

label("Level 4", 525, 158);
label("Level 2", 721, 158);
label("Level 0 (PM)", 1013, 159);

// ----- bottom panel -----
const xBot = d3.scaleLinear().domain([0, 10]).range([132, 1112]);
const yBot = d3.scaleLinear().domain([-1, 1]).range([1001, 555]);

const botPlot = svg.append("g");
dots(botPlot, art, xBot, yBot, 1.5);
dots(botPlot, band(artBand), xBot, yBot, 1.6);
dots(botPlot, artFaint, xBot, yBot, 1.0, "#999");

botPlot.append("path")
  .datum(plummer)
  .attr("d", d3.line().x(d => xBot(d[0])).y(d => yBot(d[1])).curve(d3.curveMonotoneX))
  .attr("fill", "none").attr("stroke", "#000").attr("stroke-width", 2.4);

panel(xBot, yBot, botXMajor, botXMajorLabels, botXMinor, 58);

label("ART", 330, 698);
label("Plummer Softening", 332, 875, "start");
</script>
</body>
</html>
